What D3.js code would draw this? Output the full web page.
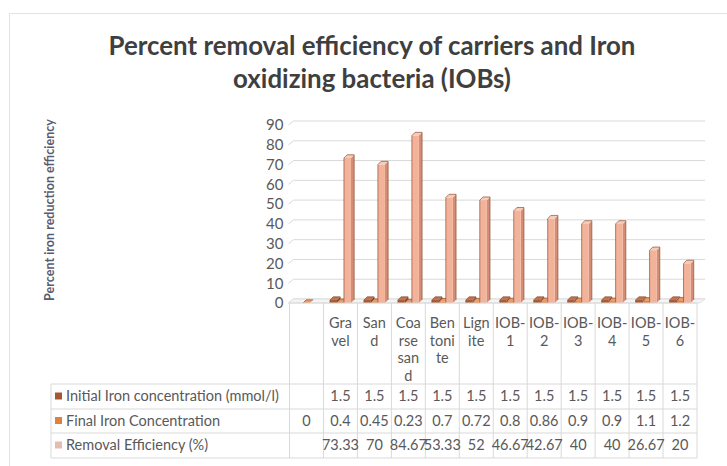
<!DOCTYPE html>
<html>
<head>
<meta charset="utf-8">
<script src="https://cdn.jsdelivr.net/npm/d3@7"></script>
<style>
  html, body { margin: 0; padding: 0; background: #ffffff; }
  svg { display: block; }
</style>
</head>
<body>
<svg id="chart" width="727" height="466"></svg>
<script>
// ---------- DATA ----------
const categories = ["", "Gravel", "Sand", "Coarse sand", "Bentonite", "Lignite",
  "IOB-1", "IOB-2", "IOB-3", "IOB-4", "IOB-5", "IOB-6"];
const categoryLines = [[], ["Gra", "vel"], ["San", "d"], ["Coa", "rse", "san", "d"],
  ["Ben", "toni", "te"], ["Lign", "ite"], ["IOB-", "1"], ["IOB-", "2"], ["IOB-", "3"],
  ["IOB-", "4"], ["IOB-", "5"], ["IOB-", "6"]];
const seriesNames = ["Initial Iron concentration (mmol/l)", "Final Iron Concentration", "Removal Efficiency (%)"];
const initialIron = [null, 1.5, 1.5, 1.5, 1.5, 1.5, 1.5, 1.5, 1.5, 1.5, 1.5, 1.5];
const finalIron = [0, 0.4, 0.45, 0.23, 0.7, 0.72, 0.8, 0.86, 0.9, 0.9, 1.1, 1.2];
const removalEff = [null, 73.33, 70, 84.67, 53.33, 52, 46.67, 42.67, 40, 40, 26.67, 20];
const yTicks = [0, 10, 20, 30, 40, 50, 60, 70, 80, 90];
const titleLines = ["Percent removal efficiency of carriers and Iron", "oxidizing bacteria (IOBs)"];
const yAxisTitle = "Percent iron reduction efficiency";

// ---------- STYLE ----------
const FONT = "Lato, 'Open Sans', sans-serif";
const textColor = "#595959";
const gridColor = "#d9d9d9";
const seriesFront = ["#a65a34", "#de7d3e", "#f3b29a"];
const seriesSide = ["#7e4124", "#b45e2a", "#d58e74"];
const seriesTop = ["#c07450", "#eb9a63", "#f8cbb9"];
const seriesKey = ["#a3582f", "#e0813f", "#e6bcb2"];
const seriesData = [initialIron, finalIron, removalEff];

const svg = d3.select("#chart");

// chart area border
svg.append("rect").attr("x", 9.5).attr("y", 13.5).attr("width", 740).attr("height", 470)
  .attr("fill", "#fff").attr("stroke", "#e3e3e3").attr("stroke-width", 1);

// ---------- TITLE ----------
const title = svg.append("g");
const titleTargets = [{ cx: 372, y: 55, w: 527 }, { cx: 372, y: 88, w: 278 }];
titleLines.forEach((t, i) => {
  title.append("text")
    .attr("x", titleTargets[i].cx).attr("y", titleTargets[i].y)
    .attr("text-anchor", "middle")
    .attr("font-family", FONT).attr("font-weight", 700).attr("font-size", 24)
    .attr("fill", "#3f3f3f").text(t);
});
const tw = title.select("text").node().getComputedTextLength();
if (tw > 0) title.selectAll("text").attr("font-size", Math.max(18, Math.min(30, 24 * titleTargets[0].w / tw)));

// ---------- SCALES ----------
const plotLeft = 289.5, plotRight = 697;
const x = d3.scaleBand().domain(categories).range([plotLeft, plotRight]).padding(0);
const xs = d3.scaleBand().domain([0, 1, 2]).range([6.5, 27.5]).padding(0);
const y = d3.scaleLinear().domain([0, 90]).range([303, 125]);
const depth = 3.2, wallShift = 4;

// body font fitting
const probe = svg.append("text").attr("font-family", FONT).attr("font-size", 13).text(seriesNames[0]);
const pw = probe.node().getComputedTextLength();
probe.remove();
const bodyFs = pw > 0 ? Math.max(11, Math.min(14.5, 13 * 222 / pw)) : 13.3;

// ---------- GRIDLINES (back wall) ----------
const grid = svg.append("g");
yTicks.forEach(v => {
  const yy = y(v);
  grid.append("path")
    .attr("d", `M${plotLeft - 1},${yy} L${plotLeft + 4},${yy - wallShift} L${plotRight + 8},${yy - wallShift}`)
    .attr("fill", "none").attr("stroke", gridColor).attr("stroke-width", 1);
});
// floor
grid.append("path")
  .attr("d", `M${plotLeft - 1},${y(0)} L${plotLeft + 4},${y(0) - wallShift} L${plotRight + 8},${y(0) - wallShift} L${plotRight + 3},${y(0)} Z`)
  .attr("fill", "#f4f4f4").attr("stroke", gridColor).attr("stroke-width", 0.8);

// ---------- Y AXIS ----------
const yAxis = svg.append("g").attr("transform", `translate(${plotLeft - 1},0)`)
  .call(d3.axisLeft(y).tickValues(yTicks).tickSize(0).tickPadding(5).tickFormat(d3.format("d")));
yAxis.select(".domain").remove();
yAxis.selectAll("text").attr("font-family", FONT).attr("font-size", bodyFs + 0.5).attr("fill", textColor);

const yt = svg.append("text")
  .attr("transform", `translate(54,210) rotate(-90)`)
  .attr("text-anchor", "middle")
  .attr("font-family", FONT).attr("font-weight", 700).attr("font-size", 13)
  .attr("fill", "#585c70").text(yAxisTitle);
const ytw = yt.node().getComputedTextLength();
if (ytw > 0) yt.attr("font-size", Math.max(10, Math.min(15, 13 * 182 / ytw)));

// ---------- BARS (pseudo 3D) ----------
const bars = svg.append("g");
seriesData.forEach((arr, s) => {
  arr.forEach((v, i) => {
    if (v === null || v === undefined) return;
    const x0 = x(categories[i]) + xs(s);
    const w = xs.bandwidth();
    const ytop = y(v), yb = y(0);
    const g = bars.append("g");
    g.append("path")
      .attr("d", `M${x0 + w},${yb} L${x0 + w + depth},${yb - depth} L${x0 + w + depth},${ytop - depth} L${x0 + w},${ytop} Z`)
      .attr("fill", seriesSide[s]);
    g.append("path")
      .attr("d", `M${x0},${ytop} L${x0 + depth},${ytop - depth} L${x0 + w + depth},${ytop - depth} L${x0 + w},${ytop} Z`)
      .attr("fill", seriesTop[s]);
    g.append("rect").attr("x", x0).attr("y", ytop).attr("width", w).attr("height", Math.max(0, yb - ytop))
      .attr("fill", seriesFront[s]);
    g.append("path")
      .attr("d", `M${x0},${yb} L${x0},${ytop} L${x0 + depth},${ytop - depth} L${x0 + w + depth},${ytop - depth} L${x0 + w + depth},${yb - depth}`)
      .attr("fill", "none").attr("stroke", "#8a4a30").attr("stroke-width", 0.8).attr("stroke-opacity", 0.85);
  });
});

// ---------- DATA TABLE ----------
const table = svg.append("g");
const tableLeft = 51, headerTop = 303, rowTops = [384, 409, 433], tableBottom = 458;
table.append("line").attr("x1", plotLeft).attr("x2", plotRight).attr("y1", headerTop).attr("y2", headerTop)
  .attr("stroke", gridColor);
rowTops.concat([tableBottom]).forEach(yy => {
  table.append("line").attr("x1", tableLeft).attr("x2", plotRight).attr("y1", yy).attr("y2", yy)
    .attr("stroke", gridColor);
});
table.append("line").attr("x1", tableLeft).attr("x2", tableLeft).attr("y1", rowTops[0]).attr("y2", tableBottom)
  .attr("stroke", gridColor);
categories.forEach(c => {
  const xx = x(c);
  table.append("line").attr("x1", xx).attr("x2", xx).attr("y1", headerTop).attr("y2", tableBottom)
    .attr("stroke", gridColor);
});
table.append("line").attr("x1", plotRight).attr("x2", plotRight).attr("y1", headerTop).attr("y2", tableBottom)
  .attr("stroke", gridColor);

categories.forEach((c, i) => {
  const cx = x(c) + x.bandwidth() / 2;
  categoryLines[i].forEach((ln, j) => {
    table.append("text").attr("x", cx).attr("y", 328 + j * 17.6)
      .attr("text-anchor", "middle").attr("font-family", FONT).attr("font-size", bodyFs)
      .attr("fill", textColor).text(ln);
  });
});

const fmt = v => (v === null || v === undefined) ? "" : String(v);
seriesNames.forEach((name, s) => {
  const top = rowTops[s];
  const bottom = s < 2 ? rowTops[s + 1] : tableBottom;
  const cy = (top + bottom) / 2;
  table.append("rect").attr("x", 55).attr("y", cy - 4).attr("width", 7).attr("height", 7)
    .attr("fill", seriesKey[s]);
  table.append("text").attr("x", 66).attr("y", cy + 4.5)
    .attr("font-family", FONT).attr("font-size", bodyFs).attr("fill", textColor).text(name);
  seriesData[s].forEach((v, i) => {
    table.append("text").attr("x", x(categories[i]) + x.bandwidth() / 2).attr("y", cy + 4.5)
      .attr("text-anchor", "middle").attr("font-family", FONT).attr("font-size", bodyFs)
      .attr("fill", textColor).text(fmt(v));
  });
});
</script>
</body>
</html>
